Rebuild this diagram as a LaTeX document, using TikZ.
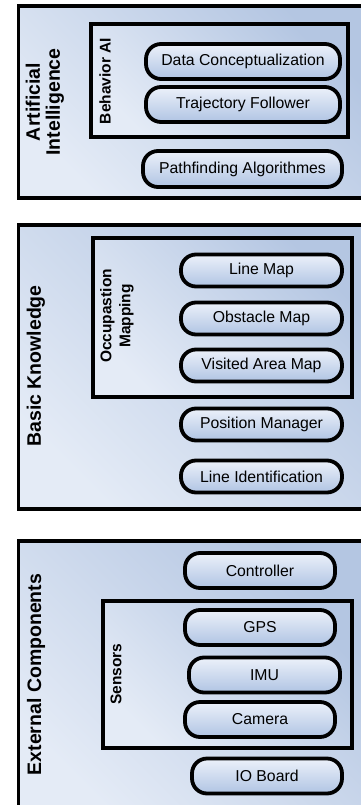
\documentclass[tikz,border=0pt]{standalone}
\usepackage{fontspec}
\setmainfont{Liberation Sans}
\definecolor{panelDark}{RGB}{180,198,226}
\definecolor{panelLight}{RGB}{228,235,246}
\definecolor{pillTop}{RGB}{236,241,250}
\definecolor{pillBot}{RGB}{176,196,227}
\tikzset{
  panel/.style={draw=black, line width=3.6pt,
    top color=panelDark, bottom color=panelLight, shading angle=-45},
  pill/.style={draw=black, line width=3.8pt, rounded corners=15pt,
    top color=pillTop, bottom color=pillBot, inner sep=0pt,
    font=\fontsize{15.8}{18}\selectfont},
  biglabel/.style={rotate=90, align=center, inner sep=0pt,
    font=\bfseries\fontsize{19.5}{20}\selectfont},
  smalllabel/.style={rotate=90, align=center, inner sep=0pt,
    font=\bfseries\fontsize{15.5}{19}\selectfont},
}
\begin{document}
\begin{tikzpicture}[x=1pt, y=-1pt]
\useasboundingbox (0,0) rectangle (360,805);

% ---- Artificial Intelligence ----
\shade[panel] (18.5,6) rectangle (366,198);
\node[biglabel] (ai) at (45,102) {Artificial\\Intelligence};
\shade[panel] (91,24) rectangle (348,137);
\node[smalllabel] (bai) at (105,81) {Behavior AI};
\node[pill, minimum width=194pt, minimum height=35pt] (dc) at (243,61.5) {Data Conceptualization};
\node[pill, minimum width=194pt, minimum height=35pt] (tf) at (243,104.5) {Trajectory Follower};
\node[pill, minimum width=199pt, minimum height=36pt] (pa) at (242.5,169) {Pathfinding Algorithmes};

% ---- Basic Knowledge ----
\shade[panel] (18.5,225) rectangle (366,509);
\node[biglabel] (bk) at (36,366) {Basic Knowledge};
\shade[panel] (93,238) rectangle (352,397);
\node[smalllabel] (om) at (117,316) {Occupastion\\Mapping};
\node[pill, minimum width=161pt, minimum height=32pt] (lm) at (261.5,270.5) {Line Map};
\node[pill, minimum width=161pt, minimum height=32pt] (ob) at (261.5,318.5) {Obstacle Map};
\node[pill, minimum width=161pt, minimum height=32pt] (va) at (261.5,365.5) {Visited Area Map};
\node[pill, minimum width=161pt, minimum height=32pt] (pm) at (261.5,424.5) {Position Manager};
\node[pill, minimum width=161pt, minimum height=32pt] (li) at (261.5,476.5) {Line Identification};

% ---- External Components ----
\shade[panel] (18.5,541) rectangle (366,812);
\node[biglabel] (ec) at (36,674.5) {External Components};
\shade[panel] (103,601) rectangle (352,748);
\node[smalllabel] (se) at (116,674) {Sensors};
\node[pill, minimum width=150pt, minimum height=35pt] (ct) at (260,570.5) {Controller};
\node[pill, minimum width=150pt, minimum height=35pt] (gps) at (260,627.5) {GPS};
\node[pill, minimum width=151pt, minimum height=35pt] (imu) at (264.5,675) {IMU};
\node[pill, minimum width=150pt, minimum height=35pt] (cam) at (260,719.5) {Camera};
\node[pill, minimum width=150pt, minimum height=35pt] (io) at (267,776) {IO Board};
\end{tikzpicture}
\end{document}
